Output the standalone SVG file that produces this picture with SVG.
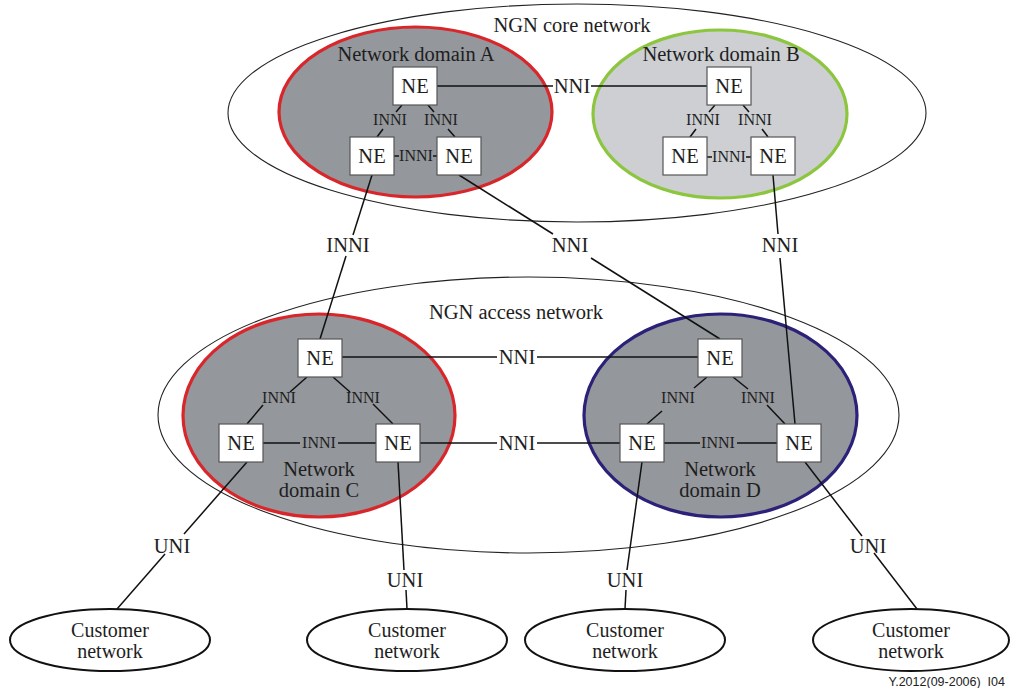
<svg xmlns="http://www.w3.org/2000/svg" width="1011" height="688" viewBox="0 0 1011 688">
<style>
.outer{fill:none;stroke:#222;stroke-width:1.1}
.dom{stroke-width:3.2}
.dark{fill:#94979c}
.light{fill:#cdcfd3}
.ne rect{fill:#fff;stroke:#555;stroke-width:1.2}
.t{font-family:"Liberation Serif","Times New Roman",serif;fill:#1e1e1e;text-anchor:middle}
.big{font-size:20.5px}
.sm{font-size:16px}
.cn{font-size:20px}
#connectors line{stroke:#111;stroke-width:1.5}
.cust{fill:#fff;stroke:#111;stroke-width:2}
</style>

<g id="ngn-core">
<ellipse class="outer" cx="577" cy="113" rx="349" ry="109"/>
<text class="t big" x="572" y="32">NGN core network</text>
</g>
<g id="ngn-access">
<ellipse class="outer" cx="528.5" cy="415" rx="370.5" ry="138"/>
<text class="t big" x="516" y="319">NGN access network</text>
</g>

<g id="domain-A">
<ellipse class="dom dark" cx="415.5" cy="112" rx="136.5" ry="85" stroke="#d8262b"/>
<text class="t big" x="416" y="61">Network domain A</text>
</g>
<g id="domain-B">
<ellipse class="dom light" cx="720" cy="114" rx="127" ry="84" stroke="#8cc63f"/>
<text class="t big" x="721" y="61">Network domain B</text>
</g>
<g id="domain-C">
<ellipse class="dom dark" cx="319" cy="415.5" rx="136" ry="101.5" stroke="#d8262b"/>
<text class="t big" x="319" y="476">Network</text>
<text class="t big" x="319" y="497">domain C</text>
</g>
<g id="domain-D">
<ellipse class="dom dark" cx="720.5" cy="415.5" rx="136.5" ry="101.5" stroke="#2b2178"/>
<text class="t big" x="720" y="476">Network</text>
<text class="t big" x="720" y="497">domain D</text>
</g>

<g id="connectors">
<!-- domain A -->
<line x1="402" y1="105" x2="396" y2="112"/>
<line x1="383" y1="129" x2="377" y2="137"/>
<line x1="428" y1="105" x2="434" y2="112"/>
<line x1="448" y1="129" x2="455" y2="137"/>
<line x1="394" y1="156" x2="399" y2="156"/>
<line x1="433" y1="156" x2="437" y2="156"/>
<text class="t sm" x="390" y="125">INNI</text>
<text class="t sm" x="441" y="125">INNI</text>
<text class="t sm" x="416" y="161">INNI</text>
<!-- A-B -->
<line x1="437" y1="86" x2="553" y2="86"/>
<line x1="591" y1="86" x2="707" y2="86"/>
<text class="t big" x="572" y="93">NNI</text>
<!-- domain B -->
<line x1="715" y1="105" x2="709" y2="112"/>
<line x1="696" y1="129" x2="690" y2="137"/>
<line x1="743" y1="105" x2="749" y2="112"/>
<line x1="762" y1="129" x2="768" y2="137"/>
<line x1="707" y1="157" x2="712" y2="157"/>
<line x1="746" y1="157" x2="751" y2="157"/>
<text class="t sm" x="703" y="125">INNI</text>
<text class="t sm" x="755" y="125">INNI</text>
<text class="t sm" x="729" y="162">INNI</text>
<!-- core to access -->
<line x1="372" y1="175" x2="353" y2="235"/>
<line x1="346" y1="256" x2="320" y2="339"/>
<text class="t big" x="348" y="252">INNI</text>
<line x1="459" y1="175" x2="553" y2="234"/>
<line x1="591" y1="258" x2="720" y2="339"/>
<text class="t big" x="570" y="252">NNI</text>
<line x1="773" y1="175" x2="778" y2="234"/>
<line x1="780" y1="258" x2="795" y2="424"/>
<text class="t big" x="780" y="252">NNI</text>
<!-- domain C -->
<line x1="307" y1="377" x2="290" y2="392"/>
<line x1="263" y1="405" x2="247" y2="424"/>
<line x1="333" y1="377" x2="350" y2="392"/>
<line x1="373" y1="404" x2="393" y2="424"/>
<line x1="263" y1="443" x2="300" y2="443"/>
<line x1="338" y1="443" x2="376" y2="443"/>
<text class="t sm" x="279" y="403">INNI</text>
<text class="t sm" x="363" y="403">INNI</text>
<text class="t sm" x="319" y="448">INNI</text>
<!-- C-D -->
<line x1="342" y1="357" x2="497" y2="357"/>
<line x1="537" y1="357" x2="698" y2="357"/>
<text class="t big" x="517" y="364">NNI</text>
<line x1="420" y1="443" x2="497" y2="443"/>
<line x1="537" y1="443" x2="620" y2="443"/>
<text class="t big" x="517" y="450">NNI</text>
<!-- domain D -->
<line x1="707" y1="377" x2="694" y2="388"/>
<line x1="662" y1="411" x2="647" y2="424"/>
<line x1="733" y1="377" x2="748" y2="389"/>
<line x1="767" y1="405" x2="785" y2="424"/>
<line x1="664" y1="443" x2="700" y2="443"/>
<line x1="737" y1="443" x2="777" y2="443"/>
<text class="t sm" x="678" y="403">INNI</text>
<text class="t sm" x="758" y="403">INNI</text>
<text class="t sm" x="718" y="448">INNI</text>
<!-- UNI -->
<line x1="247" y1="462" x2="184" y2="534"/>
<line x1="165" y1="554" x2="117" y2="609"/>
<text class="t big" x="172" y="553">UNI</text>
<line x1="398" y1="462" x2="404" y2="570"/>
<line x1="406" y1="590" x2="407" y2="609"/>
<text class="t big" x="405" y="587">UNI</text>
<line x1="642" y1="462" x2="627" y2="570"/>
<line x1="626" y1="590" x2="625" y2="609"/>
<text class="t big" x="625" y="587">UNI</text>
<line x1="805" y1="462" x2="862" y2="536"/>
<line x1="874" y1="553" x2="917" y2="609"/>
<text class="t big" x="868" y="553">UNI</text>
</g>

<g id="ne-a1" class="ne"><rect x="393" y="67" width="44" height="38"/><text class="t big" x="415" y="93">NE</text></g>
<g id="ne-a2" class="ne"><rect x="350" y="137" width="44" height="38"/><text class="t big" x="372" y="163">NE</text></g>
<g id="ne-a3" class="ne"><rect x="437" y="137" width="44" height="38"/><text class="t big" x="459" y="163">NE</text></g>
<g id="ne-b1" class="ne"><rect x="707" y="67" width="44" height="38"/><text class="t big" x="729" y="93">NE</text></g>
<g id="ne-b2" class="ne"><rect x="663" y="137" width="44" height="38"/><text class="t big" x="685" y="163">NE</text></g>
<g id="ne-b3" class="ne"><rect x="751" y="137" width="44" height="38"/><text class="t big" x="773" y="163">NE</text></g>
<g id="ne-c1" class="ne"><rect x="298" y="339" width="44" height="38"/><text class="t big" x="320" y="365">NE</text></g>
<g id="ne-c2" class="ne"><rect x="219" y="424" width="44" height="38"/><text class="t big" x="241" y="450">NE</text></g>
<g id="ne-c3" class="ne"><rect x="376" y="424" width="44" height="38"/><text class="t big" x="398" y="450">NE</text></g>
<g id="ne-d1" class="ne"><rect x="698" y="339" width="44" height="38"/><text class="t big" x="720" y="365">NE</text></g>
<g id="ne-d2" class="ne"><rect x="620" y="424" width="44" height="38"/><text class="t big" x="642" y="450">NE</text></g>
<g id="ne-d3" class="ne"><rect x="777" y="424" width="44" height="38"/><text class="t big" x="799" y="450">NE</text></g>

<g id="cust-1"><ellipse class="cust" cx="110" cy="640" rx="100" ry="31"/><text class="t cn" x="110" y="637">Customer</text><text class="t cn" x="110" y="658">network</text></g>
<g id="cust-2"><ellipse class="cust" cx="407" cy="640" rx="100" ry="31"/><text class="t cn" x="407" y="637">Customer</text><text class="t cn" x="407" y="658">network</text></g>
<g id="cust-3"><ellipse class="cust" cx="625" cy="640" rx="100" ry="31"/><text class="t cn" x="625" y="637">Customer</text><text class="t cn" x="625" y="658">network</text></g>
<g id="cust-4"><ellipse class="cust" cx="911" cy="640" rx="98" ry="31"/><text class="t cn" x="911" y="637">Customer</text><text class="t cn" x="911" y="658">network</text></g>

<text x="1005" y="686" xml:space="preserve" style="font-family:'Liberation Sans',Arial,sans-serif;font-size:12.5px;fill:#222;text-anchor:end">Y.2012(09-2006)  I04</text>
</svg>
